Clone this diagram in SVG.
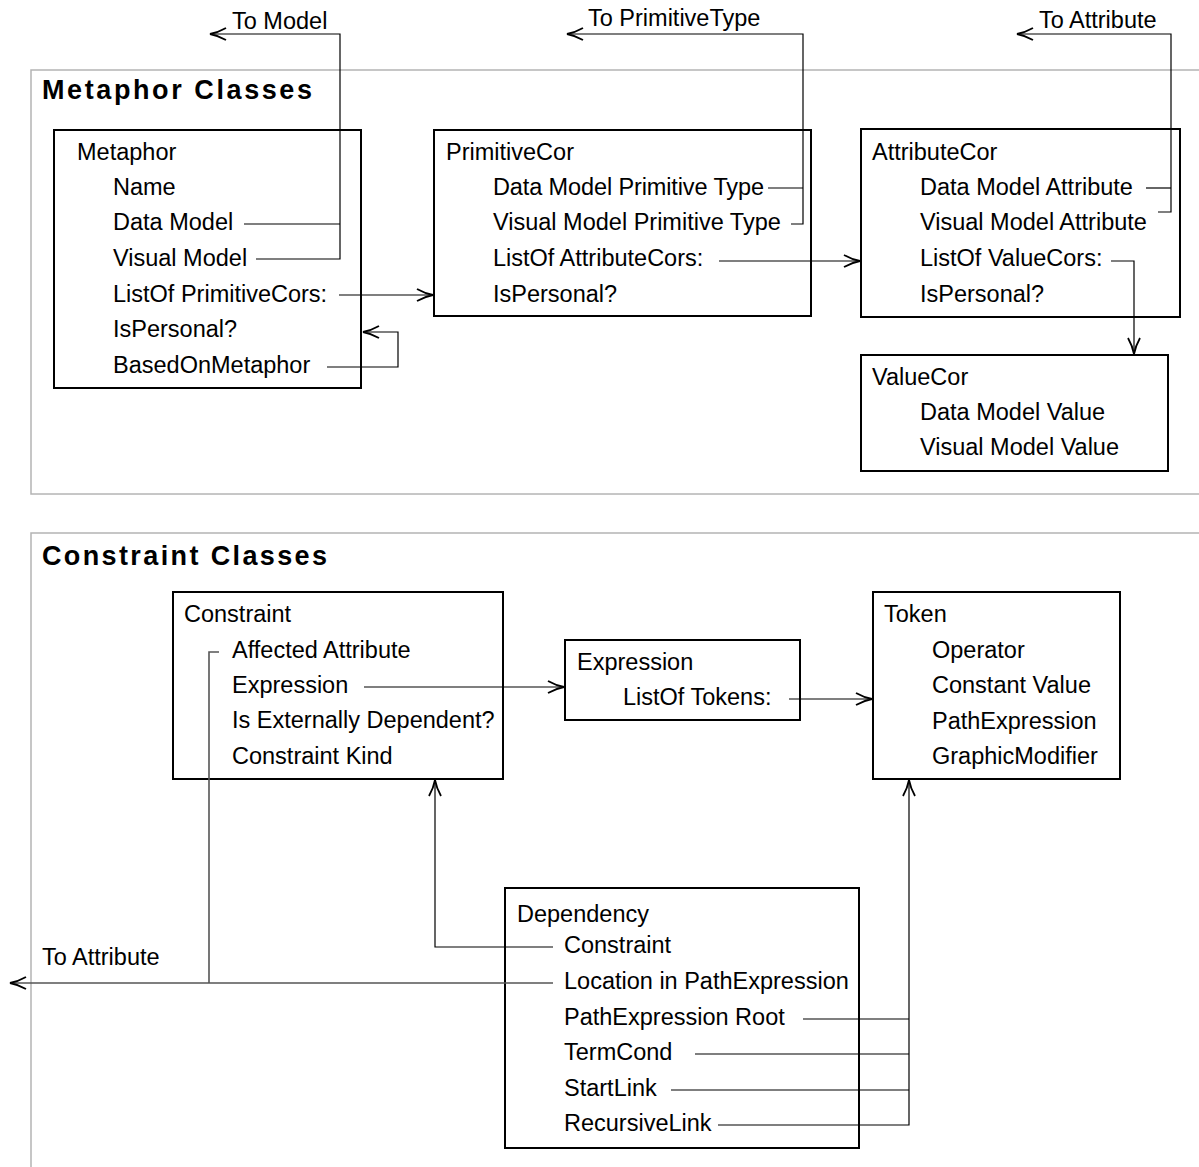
<svg xmlns="http://www.w3.org/2000/svg" width="1199" height="1167" viewBox="0 0 1199 1167">
<style>
text{font-family:"Liberation Sans",Arial,sans-serif;font-size:23.5px;fill:#000}
.title{font-weight:bold;font-size:27px}
.panel{fill:none;stroke:#b4b4b4;stroke-width:1.5}
.box{fill:#fff;stroke:#000;stroke-width:2}
.c{fill:none;stroke:#000;stroke-width:1.2}
.g{fill:none;stroke:#555;stroke-width:1.6}
</style>
<defs>
<marker id="arr" markerUnits="userSpaceOnUse" markerWidth="18" markerHeight="14" viewBox="0 0 18 14" refX="17" refY="7" orient="auto">
<path d="M1,1 Q9,5.5 17,7 Q9,8.5 1,13" fill="none" stroke="#000" stroke-width="1.8"/>
</marker>
</defs>
<rect class="panel" x="31" y="70" width="1200" height="424"/>
<text class="title" x="42" y="99" textLength="270" lengthAdjust="spacing">Metaphor Classes</text>
<rect class="panel" x="31" y="533" width="1200" height="700"/>
<text class="title" x="42" y="565" textLength="285" lengthAdjust="spacing">Constraint Classes</text>

<g id="metaphor">
<rect class="box" x="54" y="130" width="307" height="258"/>
<text x="77" y="160">Metaphor</text>
<text x="113" y="195">Name</text>
<text x="113" y="230">Data Model</text>
<text x="113" y="266">Visual Model</text>
<text x="113" y="302">ListOf PrimitiveCors:</text>
<text x="113" y="337">IsPersonal?</text>
<text x="113" y="373">BasedOnMetaphor</text>
</g>
<g id="primitivecor">
<rect class="box" x="434" y="130" width="377" height="186"/>
<text x="446" y="160">PrimitiveCor</text>
<text x="493" y="195" textLength="271" lengthAdjust="spacing">Data Model Primitive Type</text>
<text x="493" y="230">Visual Model Primitive Type</text>
<text x="493" y="266">ListOf AttributeCors:</text>
<text x="493" y="302">IsPersonal?</text>
</g>
<g id="attributecor">
<rect class="box" x="861" y="129" width="319" height="188"/>
<text x="872" y="160">AttributeCor</text>
<text x="920" y="195">Data Model Attribute</text>
<text x="920" y="230">Visual Model Attribute</text>
<text x="920" y="266">ListOf ValueCors:</text>
<text x="920" y="302">IsPersonal?</text>
</g>
<g id="valuecor">
<rect class="box" x="861" y="355" width="307" height="116"/>
<text x="872" y="385">ValueCor</text>
<text x="920" y="420">Data Model Value</text>
<text x="920" y="455">Visual Model Value</text>
</g>
<g id="constraint">
<rect class="box" x="173" y="592" width="330" height="187"/>
<text x="184" y="622">Constraint</text>
<text x="232" y="658">Affected Attribute</text>
<text x="232" y="693">Expression</text>
<text x="232" y="728">Is Externally Dependent?</text>
<text x="232" y="764">Constraint Kind</text>
</g>
<g id="expression">
<rect class="box" x="565" y="640" width="235" height="80"/>
<text x="577" y="670">Expression</text>
<text x="623" y="705">ListOf Tokens:</text>
</g>
<g id="token">
<rect class="box" x="873" y="592" width="247" height="187"/>
<text x="884" y="622">Token</text>
<text x="932" y="658">Operator</text>
<text x="932" y="693">Constant Value</text>
<text x="932" y="729">PathExpression</text>
<text x="932" y="764">GraphicModifier</text>
</g>
<g id="dependency">
<rect class="box" x="505" y="888" width="354" height="260"/>
<text x="517" y="922">Dependency</text>
<text x="564" y="953">Constraint</text>
<text x="564" y="989">Location in PathExpression</text>
<text x="564" y="1025">PathExpression Root</text>
<text x="564" y="1060">TermCond</text>
<text x="564" y="1096">StartLink</text>
<text x="564" y="1131">RecursiveLink</text>
</g>
<g id="ext-labels">
<text x="232" y="29">To Model</text>
<text x="588" y="26">To PrimitiveType</text>
<text x="1039" y="28">To Attribute</text>
<text x="42" y="965">To Attribute</text>
</g>
<g id="connectors">
<path class="c" d="M244,224 H340"/>
<path class="c" d="M256,259 H340 V34 H210" marker-end="url(#arr)"/>
<path class="c" d="M339,295 H433" marker-end="url(#arr)"/>
<path class="c" d="M327,367 H398 V332 H363" marker-end="url(#arr)"/>
<path class="c" d="M768,188 H803"/>
<path class="c" d="M791,224 H803 V34 H567" marker-end="url(#arr)"/>
<path class="c" d="M719,261 H860" marker-end="url(#arr)"/>
<path class="c" d="M1146,188 H1171"/>
<path class="c" d="M1158,212 H1171 V34 H1017" marker-end="url(#arr)"/>
<path class="c" d="M1111,261 H1134 V354" marker-end="url(#arr)"/>
<path class="c" d="M364,687 H564" marker-end="url(#arr)"/>
<path class="c" d="M789,699 H872" marker-end="url(#arr)"/>
<path class="g" d="M219,652 H209 V983"/>
<path class="g" d="M553,983 H10" marker-end="url(#arr)"/>
<path class="c" d="M553,947 H435 V780" marker-end="url(#arr)"/>
<path class="c" d="M803,1019 H909"/>
<path class="c" d="M695,1054 H909"/>
<path class="c" d="M671,1090 H909"/>
<path class="c" d="M718,1125 H909 V780" marker-end="url(#arr)"/>
</g>
</svg>
